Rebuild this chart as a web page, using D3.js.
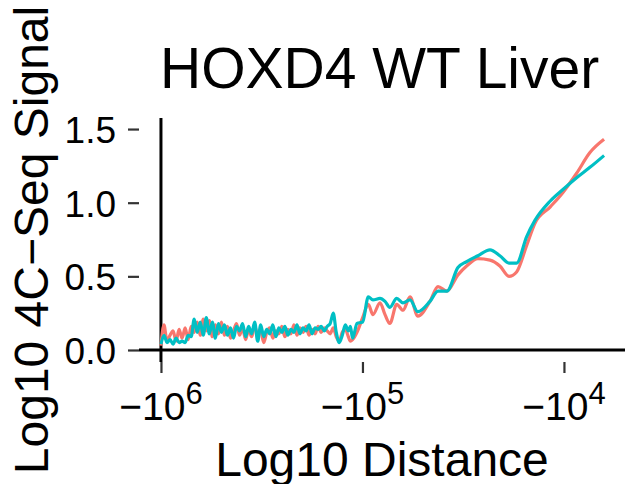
<!DOCTYPE html>
<html>
<head>
<meta charset="utf-8">
<script src="https://cdn.jsdelivr.net/npm/d3@7/dist/d3.min.js"></script>
<style>
  html, body { margin: 0; padding: 0; background: #fff; }
  svg { display: block; }
  text { font-family: "Liberation Sans", Arial, Helvetica, sans-serif; fill: #000; }
</style>
</head>
<body>
<svg id="chart" width="625" height="484"></svg>
<script>
// ---------------- DATA ----------------
const title = "HOXD4 WT Liver";
const xTitle = "Log10 Distance";
const yTitle = "Log10 4C\u2212Seq Signal";
const seriesNames = ["WT Liver rep1", "WT Liver rep2"];
const seriesColors = ["#F8766D", "#00BFC4"];

// log10 of |distance| (distances are upstream, i.e. negative)
const logDist = [
  6.000, 5.985, 5.970, 5.955, 5.940, 5.925, 5.910, 5.895, 5.880, 5.865,
  5.850, 5.835, 5.820, 5.805, 5.790, 5.775, 5.760, 5.745, 5.730, 5.715,
  5.700, 5.685, 5.670, 5.655, 5.640, 5.625, 5.610, 5.595, 5.580, 5.565,
  5.550, 5.535, 5.520, 5.505, 5.490, 5.475, 5.460, 5.445, 5.430, 5.415,
  5.400, 5.385, 5.370, 5.355, 5.340, 5.325, 5.310, 5.295, 5.280, 5.265,
  5.250, 5.235, 5.220, 5.205, 5.190, 5.175, 5.160, 5.145, 5.130, 5.115,
  5.100, 5.085, 5.070, 5.060, 5.049, 5.027, 4.999, 4.971, 4.948, 4.913,
  4.888, 4.864, 4.830, 4.799, 4.764, 4.725, 4.665, 4.625, 4.581, 4.526,
  4.483, 4.427, 4.367, 4.318, 4.273, 4.235, 4.185, 4.144, 4.069, 4.005,
  3.937, 3.871, 3.801
];

// series 1 (salmon)
const signalRep1 = [
  0.03, 0.17, 0.06, 0.10, 0.13, 0.06, 0.14, 0.08, 0.15, 0.07,
  0.16, 0.12, 0.19, 0.10, 0.21, 0.13, 0.20, 0.09, 0.17, 0.11,
  0.19, 0.10, 0.16, 0.08, 0.13, 0.18, 0.10, 0.15, 0.07, 0.14,
  0.09, 0.16, 0.11, 0.13, 0.05, 0.12, 0.15, 0.08, 0.13, 0.11,
  0.16, 0.09, 0.14, 0.11, 0.17, 0.10, 0.15, 0.12, 0.16, 0.10,
  0.14, 0.11, 0.16, 0.12, 0.15, 0.13, 0.11, 0.15, 0.09, 0.06,
  0.12, 0.14, 0.09, 0.06, 0.07, 0.12, 0.22, 0.31, 0.24, 0.32,
  0.24, 0.18, 0.31, 0.27, 0.36, 0.23, 0.33, 0.43, 0.40, 0.51,
  0.57, 0.62, 0.61, 0.57, 0.50, 0.53, 0.71, 0.86, 0.97, 1.07,
  1.20, 1.34, 1.43
];

// series 2 (teal)
const signalRep2 = [
  0.04, 0.10, 0.05, 0.07, 0.04, 0.08, 0.05, 0.06, 0.05, 0.10,
  0.09, 0.21, 0.12, 0.19, 0.10, 0.22, 0.11, 0.19, 0.08, 0.18,
  0.12, 0.17, 0.10, 0.15, 0.08, 0.16, 0.13, 0.18, 0.09, 0.16,
  0.11, 0.19, 0.06, 0.17, 0.09, 0.14, 0.11, 0.17, 0.09, 0.15,
  0.12, 0.16, 0.10, 0.14, 0.12, 0.17, 0.11, 0.15, 0.13, 0.17,
  0.11, 0.15, 0.14, 0.16, 0.13, 0.16, 0.18, 0.25, 0.12, 0.05,
  0.10, 0.17, 0.13, 0.16, 0.08, 0.18, 0.19, 0.36, 0.34, 0.35,
  0.33, 0.29, 0.35, 0.32, 0.34, 0.26, 0.33, 0.40, 0.40, 0.56,
  0.60, 0.64, 0.68, 0.64, 0.59, 0.59, 0.77, 0.88, 1.01, 1.09,
  1.17, 1.24, 1.32
];

const xTickExps = [6, 5, 4];
const yTicks = [0.0, 0.5, 1.0, 1.5];
const yTickLabels = ["0.0", "0.5", "1.0", "1.5"];

// ---------------- LAYOUT ----------------
const W = 625, H = 484;
const panel = { left: 139, right: 625, top: 118, bottom: 362 };
const tickLen = 11;

const svg = d3.select("#chart");

// x: log scale on |distance|, reversed (−10^6 on the left, −10^4 on the right)
const x = d3.scaleLog()
  .domain([Math.pow(10, 6.109), Math.pow(10, 3.697)])
  .range([panel.left, panel.right]);
const y = d3.scaleLinear()
  .domain([-0.0815, 1.575])
  .range([panel.bottom, panel.top]);

// reference lines: x = −10^6 (vertical) and y = 0 (horizontal)
svg.append("line")
  .attr("x1", x(1e6)).attr("x2", x(1e6))
  .attr("y1", panel.top).attr("y2", panel.bottom)
  .attr("stroke", "#000").attr("stroke-width", 3);
svg.append("line")
  .attr("x1", panel.left).attr("x2", panel.right)
  .attr("y1", y(0)).attr("y2", y(0))
  .attr("stroke", "#000").attr("stroke-width", 3);

// lines
const line = d3.line()
  .x((d, i) => x(Math.pow(10, logDist[i])))
  .y(d => y(d))
  .curve(d3.curveMonotoneX);

[signalRep1, signalRep2].forEach((s, k) => {
  svg.append("path")
    .datum(s)
    .attr("d", line)
    .attr("fill", "none")
    .attr("stroke", seriesColors[k])
    .attr("stroke-width", 3.2)
    .attr("stroke-linejoin", "round");
});

// y axis (ticks + labels)
const yAxis = d3.axisLeft(y)
  .tickValues(yTicks)
  .tickFormat((d, i) => yTickLabels[i])
  .tickSize(tickLen)
  .tickPadding(12);
const gy = svg.append("g")
  .attr("transform", `translate(${panel.left},0)`)
  .call(yAxis);
gy.select(".domain").remove();
gy.selectAll(".tick line").attr("stroke", "#333").attr("stroke-width", 2.2);
gy.selectAll(".tick text")
  .attr("font-size", 37)
  .attr("dy", "0.36em")
  .style("font-family", '"Liberation Sans", Arial, sans-serif')
  .attr("fill", "#000");

// x axis (ticks + labels)
const xAxis = d3.axisBottom(x)
  .tickValues(xTickExps.map(e => Math.pow(10, e)))
  .tickFormat("")
  .tickSize(tickLen);
const gx = svg.append("g")
  .attr("transform", `translate(0,${panel.bottom})`)
  .call(xAxis);
gx.select(".domain").remove();
gx.selectAll(".tick line").attr("stroke", "#333").attr("stroke-width", 2.2);

const xLab = svg.append("g");
xTickExps.forEach(e => {
  const t = xLab.append("text")
    .attr("x", x(Math.pow(10, e)))
    .attr("y", 420)
    .attr("text-anchor", "middle")
    .attr("font-size", 39);
  t.append("tspan").text("\u221210");
  t.append("tspan").attr("dy", -16).attr("font-size", 31).text(String(e));
});

// titles
svg.append("text")
  .attr("x", 160)
  .attr("y", 88)
  .attr("font-size", 57)
  .text(title);

svg.append("text")
  .attr("x", (panel.left + panel.right) / 2)
  .attr("y", 476)
  .attr("text-anchor", "middle")
  .attr("font-size", 48)
  .text(xTitle);

svg.append("text")
  .attr("transform", `translate(48,${(panel.top + panel.bottom) / 2}) rotate(-90)`)
  .attr("text-anchor", "middle")
  .attr("font-size", 48)
  .text(yTitle);
</script>
</body>
</html>
